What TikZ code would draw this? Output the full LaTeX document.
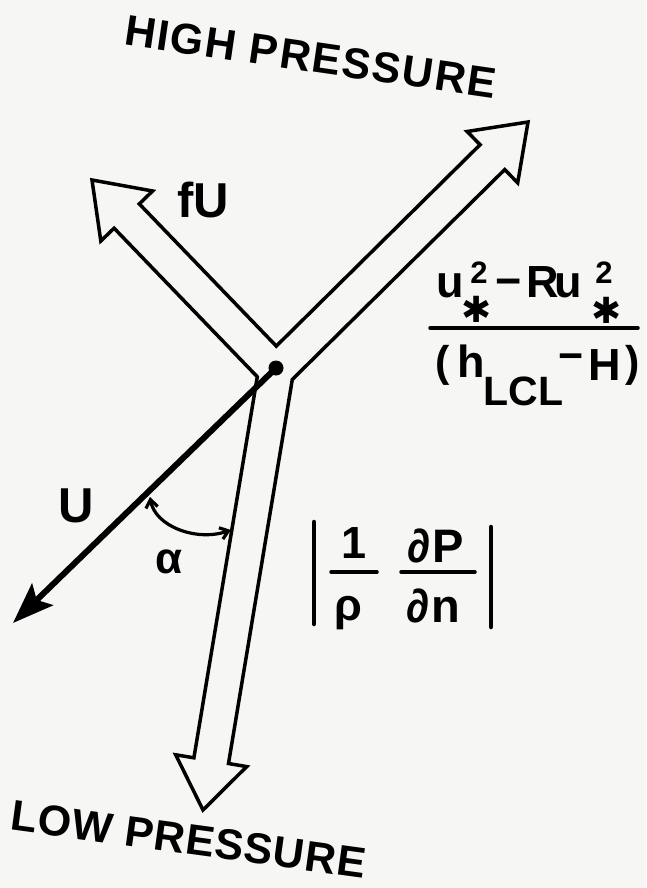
\documentclass[tikz,border=0pt]{standalone}
\usepackage{fontspec}
\setmainfont{Liberation Sans}
\newfontfamily\dejavu{DejaVu Sans Bold}
\usetikzlibrary{arrows.meta,calc}
\definecolor{paper}{RGB}{246,246,244}
\newcommand{\myfs}[1]{\bfseries\fontsize{#1}{#1}\selectfont}
\begin{document}
\begin{tikzpicture}[x=1pt,y=-1pt,
  outline/.style={draw=black, line width=3.5pt, line join=miter, fill=paper},
  lbl/.style={inner sep=0pt, outer sep=0pt, anchor=base},
  rule/.style={line width=3.5pt, line cap=round},
  bar/.style={line width=4.5pt, line cap=round},
  starlbl/.style={inner sep=0pt, outer sep=0pt, font=\dejavu\fontsize{36}{36}\selectfont},
]
\fill[paper] (0,0) rectangle (646,888);
\path[use as bounding box] (0,0) rectangle (646,888);

% hollow arrows (union outline)
\coordinate (X1) at (276.3,346.1);
\coordinate (Hn1) at (480.1,144.7);
\coordinate (Hc1) at (467.1,131.5);
\coordinate (Htip) at (528,122);
\coordinate (Hc2) at (517.7,182.8);
\coordinate (Hn2) at (504.7,169.6);
\coordinate (X2) at (292.3,379.5);
\coordinate (Dn1) at (228.5,763.5);
\coordinate (Dc1) at (246.7,766.6);
\coordinate (Dtip) at (203,810);
\coordinate (Dc2) at (175.7,754.8);
\coordinate (Dn2) at (193.9,757.8);
\coordinate (X3) at (257.3,376.8);
\coordinate (Fn1) at (114.1,228.2);
\coordinate (Fc1) at (100.8,241.0);
\coordinate (Ftip) at (92,180);
\coordinate (Fc2) at (152.6,191.0);
\coordinate (Fn2) at (139.3,203.9);
\draw[outline] (X1) -- (Hn1) -- (Hc1) -- (Htip) -- (Hc2) -- (Hn2) -- (X2)
  -- (Dn1) -- (Dc1) -- (Dtip) -- (Dc2) -- (Dn2) -- (X3)
  -- (Fn1) -- (Fc1) -- (Ftip) -- (Fc2) -- (Fn2) -- cycle;

% U vector
\node[circle, fill=black, minimum size=15pt, inner sep=0pt] (dot) at (276,368) {};
\coordinate (Utip) at (13,623);
\draw[line width=6pt, -{Stealth[length=41pt,width=30pt,inset=8pt]}] (dot.center) -- (Utip);

% angle alpha
\coordinate (a1) at (150,497);
\coordinate (a2) at (231,530);
\draw[line width=3.2pt, {Straight Barb[length=8pt,width=12pt]}-{Straight Barb[length=8pt,width=12pt]}]
  (a1) .. controls (155,526) and (196,542) .. (a2);

% labels
\node[lbl, rotate=-8.3, font={\myfs{43}\addfontfeature{LetterSpace=4}}] (high) at (308.5,71.5) {HIGH PRESSURE};
\node[lbl, rotate=-7.8, font={\myfs{43}\addfontfeature{LetterSpace=2}}] (low) at (186.5,854) {LOW PRESSURE};
\node[lbl, font=\myfs{49}] (fU) at (203.5,217) {fU};
\node[lbl, font=\myfs{49}] (U) at (76,522) {U};
\node[lbl, font=\myfs{44}] (alpha) at (169.5,573) {α};

% fraction (u*^2 - R u*^2)/(h_LCL - H)
\node[lbl, font=\myfs{45}] (u1) at (450,297) {u};
\node[lbl, font=\myfs{31}] (s1) at (479,283) {2};
\node[starlbl] (st1) at (477,309) {✱};
\node[lbl, font=\myfs{45}] (m1) at (508.5,296) {−};
\node[lbl, font=\myfs{45}] (R) at (543,297) {R};
\node[lbl, font=\myfs{45}] (u2) at (568.5,297) {u};
\node[lbl, font=\myfs{31}] (s2) at (604,283) {2};
\node[starlbl] (st2) at (607,310) {✱};
\draw[rule] (430,328) -- (638,328);
\node[lbl, font=\myfs{43}] (lp) at (443,376) {(};
\node[lbl, font=\myfs{45}] (h) at (471,377) {h};
\node[lbl, font=\myfs{41}] (lcl) at (523.5,405) {LCL};
\node[lbl, font=\myfs{43}] (m2) at (571,370) {−};
\node[lbl, font=\myfs{45}] (H) at (604.5,380) {H};
\node[lbl, font=\myfs{43}] (rp) at (632.5,376) {)};

% |1/rho dP/dn|
\draw[bar] (314,522) -- (314,624);
\draw[bar] (491,527) -- (491,627);
\node[lbl, font=\myfs{45}] (one) at (354,558) {1};
\draw[rule] (331,572) -- (377,572);
\node[lbl, font=\myfs{45}] (rho) at (348,620) {ρ};
\node[lbl, font=\myfs{47}] (dP) at (436,562) {∂\hspace{2pt}P};
\draw[rule] (401,572) -- (475,572);
\node[lbl, font=\myfs{47}] (dn) at (433,622) {∂\hspace{2pt}n};
\end{tikzpicture}
\end{document}
